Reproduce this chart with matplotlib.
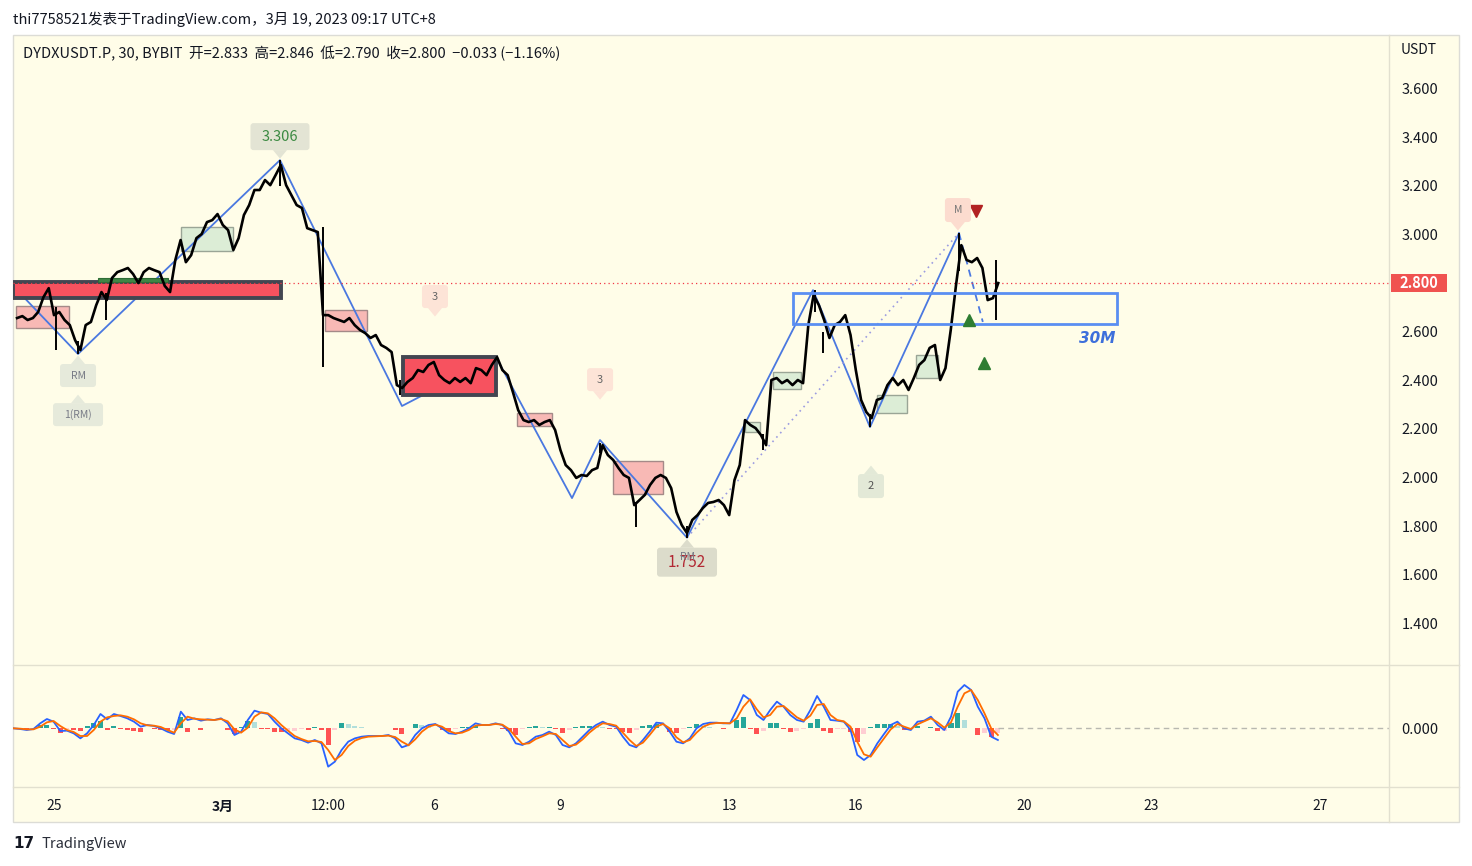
"""Recreate the DYDXUSDT.P 30m TradingView snapshot (price pane + MACD)."""

import matplotlib
matplotlib.use("Agg")
import matplotlib.pyplot as plt
import numpy as np
from matplotlib.patches import FancyBboxPatch, Polygon, Rectangle
from matplotlib.lines import Line2D
from matplotlib.transforms import IdentityTransform, ScaledTranslation

W, H = 1472, 866
BG = "#fffde8"
SEP = "#e2e0cf"
TEXT = "#131722"

# ---- price: closes every 3h, day 0 = Feb 25 00:00 ----
PRICE_START_DAY = -0.875
PRICE_STEP_DAY = 1 / 8
closes = [
    2.656, 2.664, 2.648, 2.656, 2.681, 2.742, 2.779, 2.668, 2.681, 2.648,
    2.627, 2.565, 2.524, 2.627, 2.640, 2.709, 2.763, 2.730, 2.821, 2.845,
    2.853, 2.862, 2.837, 2.800, 2.845, 2.862, 2.853, 2.845, 2.788, 2.763,
    2.895, 2.977, 2.886, 2.915, 2.985, 3.002, 3.051, 3.059, 3.084, 3.039,
    3.018, 2.936, 2.985, 3.080, 3.121, 3.183, 3.183, 3.224, 3.203, 3.244,
    3.286, 3.203, 3.162, 3.121, 3.109, 3.026, 3.018, 3.010, 2.668, 2.668,
    2.656, 2.648, 2.640, 2.656, 2.627, 2.607, 2.594, 2.574, 2.586, 2.545,
    2.533, 2.516, 2.380, 2.368, 2.393, 2.409, 2.442, 2.434, 2.463, 2.475,
    2.421, 2.401, 2.388, 2.409, 2.393, 2.409, 2.388, 2.450, 2.442, 2.421,
    2.463, 2.495, 2.442, 2.421, 2.351, 2.277, 2.236, 2.228, 2.236, 2.216,
    2.228, 2.236, 2.195, 2.113, 2.051, 2.030, 1.998, 2.010, 2.006, 2.030,
    2.039, 2.133, 2.092, 2.072, 2.039, 2.010, 1.998, 1.886, 1.907, 1.928,
    1.969, 1.998, 2.010, 1.998, 1.956, 1.858, 1.804, 1.771, 1.825, 1.845,
    1.874, 1.895, 1.899, 1.907, 1.886, 1.845, 1.989, 2.051, 2.236, 2.216,
    2.203, 2.175, 2.133, 2.401, 2.409, 2.388, 2.401, 2.380, 2.401, 2.388,
    2.627, 2.751, 2.709, 2.648, 2.574, 2.627, 2.640, 2.668, 2.586, 2.442,
    2.319, 2.269, 2.244, 2.319, 2.327, 2.380, 2.409, 2.380, 2.401, 2.360,
    2.409, 2.463, 2.483, 2.533, 2.545, 2.401, 2.450, 2.607, 2.792, 2.956,
    2.895, 2.886, 2.903, 2.862, 2.730, 2.738, 2.800,
]

# wick extremes the 3h closes miss
wick_days = [0.05, 0.57, 1.23, 5.355, 6.37, 8.2, 12.94, 13.79, 15.0, 16.8,
             18.03, 18.22, 19.34, 21.45, 22.32]
wick_lows = [2.524, 2.508, 2.648, 3.200, 2.455, 2.339, 2.100, 1.796, 1.752, 2.113,
             2.680, 2.512, 2.207, 2.850, 2.648]
wick_highs = [2.700, 2.560, 2.760, 3.306, 3.030, 2.400, 2.142, 1.900, 1.800, 2.180,
              2.771, 2.600, 2.260, 3.006, 2.895]

LAST_PRICE = 2.800

# zigzag pivots
zz_days = [-0.97, 0.569, 5.355, 8.246, 10.474, 12.275, 12.938, 15.0, 17.986, 19.336, 21.445]
zz_prices = [2.788, 2.508, 3.306, 2.294, 2.495, 1.915, 2.154, 1.752, 2.771, 2.207, 3.006]
proj_days = [21.445, 22.01]
proj_prices = [3.006, 2.640]

# zones: (day0, day1, low, high)
supply_zones = [(-0.972, 5.379, 2.738, 2.804), (8.27, 10.474, 2.339, 2.495)]
pink_zones = [(-0.90, 0.355, 2.615, 2.705), (6.422, 7.417, 2.602, 2.689),
              (10.97, 11.80, 2.212, 2.265), (13.246, 14.43, 1.932, 2.067)]
green_zones = [(3.009, 4.242, 2.932, 3.030), (16.37, 16.73, 2.187, 2.228),
               (17.04, 17.70, 2.364, 2.434), (19.50, 20.21, 2.265, 2.339),
               (20.43, 20.95, 2.409, 2.504)]
thin_green_zone = (1.043, 2.701, 2.804, 2.821)
range_box = (17.51, 25.19, 2.631, 2.759)

# callouts: text, day, price, side, face, text colour, font size, box w, box h (px)
callouts = [
    ("3.306", 5.355, 3.306, "above", "#e3e4d4", "#3b8a41", 10.5, 59, 27),
    ("RM", 0.569, 2.508, "below", "#e6eadb", "#787b86", 7.5, 36, 23),
    ("1(RM)", 0.569, 2.347, "below", "#e6eadb", "#787b86", 7.5, 50, 23),
    ("3", 9.028, 2.656, "above", "#fde4d7", "#666666", 8, 26, 23),
    ("3", 12.94, 2.314, "above", "#fde4d7", "#666666", 8, 26, 23),
    ("1.752", 15.0, 1.752, "below", "#dcdccb", "#b22833", 11, 60, 29),
    ("2", 19.36, 2.055, "below", "#e3e9d7", "#555555", 8, 26, 24),
    ("M", 21.42, 3.010, "above", "#fcdccf", "#777777", 7.5, 26, 24),
]

sell_days, sell_prices = [21.84], [3.096]
buy_days, buy_prices = [21.68, 22.04], [2.648, 2.471]

# ---- MACD (sampled every ~3.8h) ----
MACD_START_DAY = -0.962
MACD_STEP_DAY = 0.1587
macd = [
    0.000, -0.002, -0.005, -0.002, 0.015, 0.028, 0.020, -0.008, -0.007, -0.015,
    -0.030, -0.015, 0.010, 0.043, 0.027, 0.043, 0.037, 0.030, 0.020, 0.005,
    0.010, 0.007, 0.000, -0.010, -0.017, 0.050, 0.025, 0.030, 0.023, 0.027,
    0.025, 0.030, 0.015, -0.020, -0.010, 0.025, 0.053, 0.047, 0.043, 0.020,
    0.000, -0.015, -0.030, -0.035, -0.043, -0.035, -0.045, -0.115, -0.100, -0.065,
    -0.040, -0.030, -0.025, -0.023, -0.023, -0.023, -0.020, -0.030, -0.057, -0.050,
    -0.020, 0.000, 0.010, 0.013, 0.000, -0.015, -0.017, -0.010, 0.000, 0.015,
    0.010, 0.010, 0.015, 0.010, -0.010, -0.045, -0.050, -0.040, -0.025, -0.020,
    -0.010, -0.020, -0.050, -0.057, -0.045, -0.025, -0.005, 0.010, 0.020, 0.010,
    0.005, -0.025, -0.050, -0.057, -0.035, -0.010, 0.017, 0.015, -0.010, -0.040,
    -0.045, -0.030, 0.000, 0.013, 0.017, 0.017, 0.015, 0.015, 0.055, 0.100,
    0.085, 0.040, 0.025, 0.055, 0.080, 0.065, 0.040, 0.025, 0.020, 0.055,
    0.097, 0.065, 0.025, 0.023, 0.020, -0.005, -0.080, -0.095, -0.080, -0.045,
    -0.017, 0.010, 0.020, 0.000, -0.005, 0.020, 0.023, 0.035, 0.010, -0.005,
    0.035, 0.110, 0.130, 0.115, 0.065, 0.030, -0.025, -0.035,
]
signal = [
    0.000, -0.001, -0.003, -0.003, 0.005, 0.018, 0.022, 0.007, -0.005, -0.011,
    -0.023, -0.023, -0.005, 0.020, 0.033, 0.037, 0.039, 0.035, 0.027, 0.015,
    0.009, 0.008, 0.004, -0.005, -0.013, 0.015, 0.035, 0.029, 0.027, 0.026,
    0.025, 0.028, 0.021, -0.003, -0.013, 0.002, 0.035, 0.048, 0.045, 0.030,
    0.010, -0.007, -0.023, -0.032, -0.039, -0.038, -0.041, -0.065, -0.095, -0.080,
    -0.053, -0.037, -0.029, -0.025, -0.024, -0.023, -0.022, -0.026, -0.040, -0.051,
    -0.033, -0.010, 0.005, 0.011, 0.005, -0.008, -0.015, -0.013, -0.005, 0.008,
    0.010, 0.010, 0.013, 0.011, -0.002, -0.025, -0.047, -0.045, -0.032, -0.024,
    -0.015, -0.017, -0.035, -0.053, -0.049, -0.033, -0.013, 0.003, 0.015, 0.013,
    0.008, -0.013, -0.035, -0.053, -0.043, -0.020, 0.005, 0.013, 0.000, -0.027,
    -0.042, -0.035, -0.013, 0.005, 0.013, 0.016, 0.016, 0.015, 0.030, 0.065,
    0.087, 0.057, 0.033, 0.040, 0.065, 0.067, 0.050, 0.033, 0.023, 0.038,
    0.070, 0.073, 0.040, 0.025, 0.021, 0.005, -0.040, -0.078, -0.085, -0.057,
    -0.030, -0.003, 0.013, 0.005, -0.002, 0.012, 0.021, 0.030, 0.018, 0.002,
    0.018, 0.065, 0.105, 0.115, 0.085, 0.045, 0.000, -0.020,
]

price_ticks = [1.4, 1.6, 1.8, 2.0, 2.2, 2.4, 2.6, 2.8, 3.0, 3.2, 3.4, 3.6]
time_ticks = [0, 4, 6.5, 9, 12, 16, 19, 23, 26, 30]
time_labels = ["25", "3月", "12:00", "6", "9", "13", "16", "20", "23", "27"]

HEADER = "thi7758521发表于TradingView.com，3月 19, 2023 09:17 UTC+8"
LEGEND = "DYDXUSDT.P, 30, BYBIT  开=2.833  高=2.846  低=2.790  收=2.800  −0.033 (−1.16%)"


def fig_rect(x0, y0, x1, y1):
    """Pixel box (top-left origin) -> figure fraction [l, b, w, h]."""
    return [x0 / W, 1 - y1 / H, (x1 - x0) / W, (y1 - y0) / H]


def pixel_anchor(x, y, base):
    """Transform whose units are pixels, centred on (x, y) of `base`."""
    return IdentityTransform() + ScaledTranslation(x, y, base)


def draw_callout(ax, text, day, price, side, fc, tc, size, w, h):
    tr = pixel_anchor(day, price, ax.transData)
    s = 1 if side == "above" else -1
    edge = s * 10
    ax.add_patch(Polygon([(-7, edge), (7, edge), (0, s * 1.5)], closed=True,
                         fc=fc, ec="none", transform=tr, zorder=6, clip_on=False))
    y0 = edge if s > 0 else edge - h
    ax.add_patch(FancyBboxPatch((-w / 2 + 3, y0 + 3), w - 6, h - 6,
                                boxstyle="round,pad=3", fc=fc, ec="none",
                                transform=tr, zorder=6, clip_on=False))
    ax.text(0, y0 + h / 2, text, transform=tr, ha="center", va="center",
            fontsize=size, color=tc, zorder=7, clip_on=False)
    return tr, y0


def main():
    plt.rcParams["font.family"] = ["Noto Sans CJK SC", "DejaVu Sans"]
    fig = plt.figure(figsize=(W / 100, H / 100), dpi=100, facecolor="white")

    # chart background and separators
    fig.patches.append(Rectangle((13 / W, 1 - 822 / H), 1446 / W, 787 / H,
                                 transform=fig.transFigure, fc=BG, ec="#dcdcd6",
                                 lw=1, zorder=-5))
    for y in (665, 787):
        fig.lines.append(Line2D([13 / W, 1459 / W], [1 - y / H] * 2,
                                transform=fig.transFigure, color=SEP, lw=1))
    fig.lines.append(Line2D([1389 / W] * 2, [1 - 35 / H, 1 - 822 / H],
                            transform=fig.transFigure, color=SEP, lw=1))

    ax = fig.add_axes(fig_rect(13, 35, 1389, 665))
    ax2 = fig.add_axes(fig_rect(13, 665, 1389, 787), sharex=ax)
    for a in (ax, ax2):
        a.set_facecolor("none")
        for sp in a.spines.values():
            sp.set_visible(False)

    ax.set_xlim(-0.9716, 31.635)
    ax.set_ylim(1.228, 3.821)
    ax2.set_ylim(-0.176, 0.190)

    days = PRICE_START_DAY + PRICE_STEP_DAY * np.arange(len(closes))

    # zones
    for d0, d1, lo, hi in pink_zones:
        ax.add_patch(Rectangle((d0, lo), d1 - d0, hi - lo, fc="#f8b9b5",
                               ec="#a48a88", lw=1, zorder=1))
    for d0, d1, lo, hi in green_zones:
        ax.add_patch(Rectangle((d0, lo), d1 - d0, hi - lo, fc="#dcedd6",
                               ec="#9aa596", lw=1, zorder=1))

    # zigzag + projections
    ax.plot(zz_days, zz_prices, color="#4a78e0", lw=1.3, zorder=2)
    ax.plot(proj_days, proj_prices, color="#4a78e0", lw=1.3, ls=(0, (4, 3)), zorder=2)
    ax.plot([zz_days[7], zz_days[10]], [zz_prices[7], zz_prices[10]],
            color="#9c9ce0", lw=1.2, ls=(0, (1, 2.5)), zorder=2)

    for d0, d1, lo, hi in supply_zones:
        ax.add_patch(Rectangle((d0, lo), d1 - d0, hi - lo, fc="#f7525f",
                               ec="#434651", lw=2.8, zorder=2.5))
    d0, d1, lo, hi = thin_green_zone
    ax.add_patch(Rectangle((d0, lo), d1 - d0, hi - lo, fc="#3f8646",
                           ec="#2f6d35", lw=0.8, zorder=2.6))

    # last price line
    ax.axhline(LAST_PRICE, color="#f23645", lw=0.9, ls=(0, (1, 2.5)), zorder=2.7)

    # price
    ax.vlines(wick_days, wick_lows, wick_highs, color="black", lw=1.4, zorder=3)
    ax.plot(days, closes, color="black", lw=1.9, zorder=3)

    d0, d1, lo, hi = range_box
    ax.add_patch(Rectangle((d0, lo), d1 - d0, hi - lo, fc="none",
                           ec="#5a8ef2", lw=2, zorder=4))
    tr = pixel_anchor(d1, lo, ax.transData)
    ax.text(-2, -14, "30M", transform=tr, ha="right", va="center", fontsize=11,
            fontweight="bold", fontstyle="italic", color="#3d6fdb",
            family="DejaVu Sans", zorder=5)

    ax.plot(sell_days, sell_prices, "v", color="#b22222", ms=8, zorder=6)
    ax.plot(buy_days, buy_prices, "^", color="#2e7d32", ms=8, zorder=6)

    for c in callouts:
        tr, y0 = draw_callout(ax, *c)
        if c[0] == "1.752":
            ax.text(0, y0 + c[8] / 2 + 5, "RM", transform=tr, ha="center",
                    va="center", fontsize=7.5, color="#787b86", zorder=7,
                    clip_on=False)

    # price axis
    ax.yaxis.tick_right()
    ax.set_yticks(price_ticks)
    ax.set_yticklabels([f"{p:.3f}" for p in price_ticks])
    ax.tick_params(axis="y", length=0, pad=9, labelsize=10.5, labelcolor=TEXT)
    ax.tick_params(axis="x", bottom=False, labelbottom=False)
    ytr = pixel_anchor(1.0, LAST_PRICE, ax.get_yaxis_transform())
    ax.add_patch(Rectangle((2, -9), 56, 18, fc="#f05350", ec="none",
                           transform=ytr, clip_on=False, zorder=8))
    ax.text(30, 0, f"{LAST_PRICE:.3f}", transform=ytr, ha="center", va="center",
            color="white", fontsize=10.5, fontweight="bold", zorder=9, clip_on=False)

    # MACD pane
    mdays = MACD_START_DAY + MACD_STEP_DAY * np.arange(len(macd))
    hist = np.array(macd) - np.array(signal)
    prev = np.concatenate([[hist[0]], hist[:-1]])
    colors = np.where(hist >= 0,
                      np.where(hist >= prev, "#26a69a", "#b2dfdb"),
                      np.where(hist <= prev, "#ff5252", "#ffcdd2"))
    ax2.bar(mdays, hist, width=MACD_STEP_DAY * 0.75, color=colors, zorder=1)
    ax2.plot(mdays, macd, color="#2962ff", lw=1.3, zorder=2)
    ax2.plot(mdays, signal, color="#ff6d00", lw=1.3, zorder=3)
    ax2.hlines(0, mdays[-1], 31.635, color="#b8b8b0", lw=1, ls=(0, (4, 3)))
    ax2.yaxis.tick_right()
    ax2.set_yticks([0])
    ax2.set_yticklabels(["0.000"])
    ax2.tick_params(axis="y", length=0, pad=9, labelsize=10.5, labelcolor=TEXT)

    ax2.set_xticks(time_ticks)
    ax2.set_xticklabels(time_labels)
    ax2.tick_params(axis="x", length=0, pad=9, labelsize=10, labelcolor=TEXT)
    for lab in ax2.get_xticklabels():
        if lab.get_text() == "3月":
            lab.set_fontweight("bold")

    # header / footer texts
    fig.text(13 / W, 1 - 19 / H, HEADER, fontsize=10.5, color=TEXT, va="center")
    fig.text(23 / W, 1 - 53 / H, LEGEND, fontsize=10.5, color=TEXT, va="center")
    fig.text(1401 / W, 1 - 50 / H, "USDT", fontsize=10, color=TEXT, va="center")
    fig.text(13 / W, 1 - 844 / H, "17", fontsize=11, fontweight="heavy",
             color=TEXT, va="center", family="DejaVu Sans")
    fig.text(42 / W, 1 - 844 / H, "TradingView", fontsize=10.5, color="#2a2e39",
             va="center")

    fig.savefig("out.png", dpi=100, facecolor="white")
    plt.close(fig)


if __name__ == "__main__":
    main()
